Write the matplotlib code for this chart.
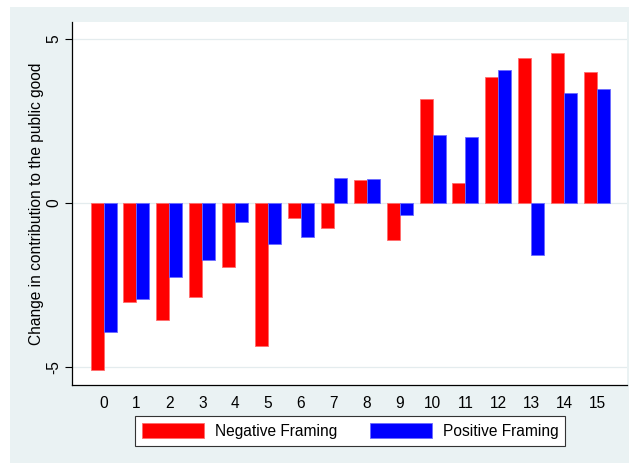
#import packages
import numpy as np
import matplotlib.pyplot as plt
from matplotlib.patches import Rectangle

plt.rcParams['font.family'] = ['Liberation Sans', 'DejaVu Sans']

#bar values
rounds = [str(i) for i in range(16)]
negative = [-5.08, -3.03, -3.58, -2.86, -1.94, -4.35, -0.45, -0.75,
            0.69, -1.12, 3.16, 0.61, 3.85, 4.42, 4.56, 4.01]
positive = [-3.92, -2.93, -2.26, -1.73, -0.57, -1.26, -1.05, 0.75,
            0.72, -0.38, 2.08, 2.01, 4.05, -1.60, 3.37, 3.47]
yticks = [-5, 0, 5]

bg = '#eaf2f3'
fs = 11.2
fig = plt.figure(figsize=(6.29, 4.63), dpi=100, facecolor='white')
fig.patches.append(Rectangle((10 / 629, 0), 619 / 629, 456 / 463,
                             transform=fig.transFigure, facecolor=bg,
                             edgecolor='none', zorder=-5))

ax = fig.add_axes([72 / 629, 1 - 385 / 463, 555 / 629, 363 / 463])
ax.set_zorder(2)
ax.set_facecolor('white')

x = np.arange(len(rounds))
w = 0.395
ax.bar(x - w / 2, negative, w, color='#ff0000', edgecolor='#ff6b6b',
       linewidth=0.6, label='Negative Framing', zorder=3)
ax.bar(x + w / 2, positive, w, color='#0000ff', edgecolor='#6b6bff',
       linewidth=0.6, label='Positive Framing', zorder=3)

ax.set_xlim(-0.96, 15.91)
ax.set_ylim(-5.55, 5.52)
ax.set_xticks(x)
ax.set_xticklabels(rounds, fontsize=fs)
ax.tick_params(axis='x', length=0, pad=8)
ax.set_yticks(yticks)
ax.set_yticklabels([str(t) for t in yticks], rotation=90, va='center',
                   fontsize=fs)
ax.tick_params(axis='y', length=5, width=0.8, pad=3)

for t in yticks:
    ax.axhline(t, color='#e4ecee', linewidth=0.9, zorder=1)

for s in ['top', 'right']:
    ax.spines[s].set_visible(False)
for s in ['left', 'bottom']:
    ax.spines[s].set_linewidth(0.9)
    ax.spines[s].set_color('black')

ax.set_ylabel('Change in contribution to the public good', fontsize=fs)
ax.yaxis.set_label_coords(-28 / 555, 0.5)

leg = fig.legend(loc='center', bbox_to_anchor=(350 / 629, 1 - 431 / 463),
                 ncol=2, fontsize=fs, frameon=True, fancybox=False,
                 framealpha=1, handlelength=4.0, handleheight=1.1,
                 handletextpad=0.7, columnspacing=2.1, borderpad=0.45)
leg.get_frame().set_edgecolor('#333333')
leg.get_frame().set_facecolor('white')
leg.get_frame().set_linewidth(0.8)

plt.savefig('out.png', dpi=100, facecolor=fig.get_facecolor())
